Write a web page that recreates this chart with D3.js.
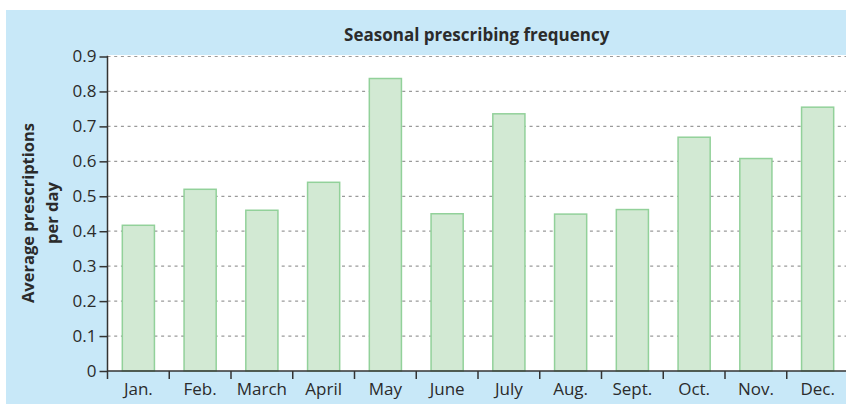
<!DOCTYPE html>
<html><head><meta charset="utf-8">
<script src="https://cdn.jsdelivr.net/npm/d3@7/dist/d3.min.js"></script>
<style>
html,body{margin:0;padding:0;background:#fff;}
svg{display:block;}
text{font-family:"Open Sans","Noto Sans",sans-serif;fill:#2b2b2b;}
</style></head>
<body>
<script>
const months = ["Jan.","Feb.","March","April","May","June","July","Aug.","Sept.","Oct.","Nov.","Dec."];
const values = [0.417,0.52,0.46,0.54,0.837,0.45,0.736,0.449,0.462,0.669,0.608,0.755];
const yTicks = [0,0.1,0.2,0.3,0.4,0.5,0.6,0.7,0.8,0.9];
const yTickLabels = ["0","0.1","0.2","0.3","0.4","0.5","0.6","0.7","0.8","0.9"];
const title = "Seasonal prescribing frequency";
const yTitle = ["Average prescriptions","per day"];

const W = 846, H = 405;
const mLeft = 107.5, mRight = 848.5, mTop = 56.5, mBottom = 371;

const svg = d3.select("body").append("svg").attr("width",W).attr("height",H);

// background panel
svg.append("rect").attr("x",6).attr("y",10).attr("width",W-6).attr("height",394).attr("fill","#c8e8f8");
svg.append("rect").attr("x",mLeft).attr("y",55).attr("width",W-mLeft).attr("height",mBottom-55).attr("fill","#fff");

const x = d3.scaleBand().domain(months).range([mLeft,mRight]).paddingInner(0.48).paddingOuter(0.24);
const y = d3.scaleLinear().domain([0,0.9]).range([mBottom,mTop]);

// gridlines
svg.append("g").selectAll("line").data(yTicks.filter(d=>d>0)).join("line")
  .attr("x1",mLeft).attr("x2",W).attr("y1",d=>y(d)).attr("y2",d=>y(d))
  .attr("stroke","#9a9a9a").attr("stroke-width",1.2).attr("stroke-dasharray","3,3.7");

// bars
svg.append("g").selectAll("rect").data(values).join("rect")
  .attr("x",(d,i)=>x(months[i]))
  .attr("y",d=>y(d))
  .attr("width",x.bandwidth())
  .attr("height",d=>mBottom-y(d))
  .attr("fill","#d2e9d3").attr("stroke","#92d19a").attr("stroke-width",1.5);

// y axis
const yAxis = d3.axisLeft(y).tickValues(yTicks).tickFormat((d,i)=>yTickLabels[i]).tickSize(8).tickPadding(3);
const gy = svg.append("g").attr("transform",`translate(${mLeft},0)`).call(yAxis);
gy.select(".domain").remove();
gy.selectAll(".tick line").attr("stroke","#333").attr("stroke-width",1.5);
gy.selectAll(".tick text").style("font-size","17px").attr("fill","#2b2b2b").attr("font-family",null);
svg.append("line").attr("x1",mLeft).attr("x2",mLeft).attr("y1",mTop-0.75).attr("y2",mBottom).attr("stroke","#333").attr("stroke-width",1.5);

// x axis: labels centered on bands, ticks at band boundaries
const gx = svg.append("g").attr("transform",`translate(0,${mBottom})`).call(d3.axisBottom(x).tickSize(0).tickPadding(12));
gx.select(".domain").remove();
gx.selectAll(".tick text").style("font-size","17px").attr("fill","#2b2b2b").attr("font-family",null);
const step = x.step();
const bounds = months.map(m => x(m) - x.paddingInner()*step/2).concat([mRight]);
svg.append("g").selectAll("line").data(bounds).join("line")
  .attr("x1",d=>d).attr("x2",d=>d).attr("y1",mBottom).attr("y2",mBottom+8)
  .attr("stroke","#333").attr("stroke-width",1.5);
svg.append("line").attr("x1",mLeft).attr("x2",W).attr("y1",mBottom).attr("y2",mBottom).attr("stroke","#333").attr("stroke-width",1.5);

// title
svg.append("text").attr("x",(mLeft+W)/2).attr("y",41).attr("text-anchor","middle")
  .style("font-size","17px").style("font-weight","bold").text(title);

// y title
const yt = svg.append("text").attr("transform","translate(0,213) rotate(-90)").attr("text-anchor","middle")
  .style("font-size","16.5px").style("font-weight","bold");
yt.append("tspan").attr("x",0).attr("y",34).text(yTitle[0]);
yt.append("tspan").attr("x",0).attr("y",58).text(yTitle[1]);
</script>
</body></html>
